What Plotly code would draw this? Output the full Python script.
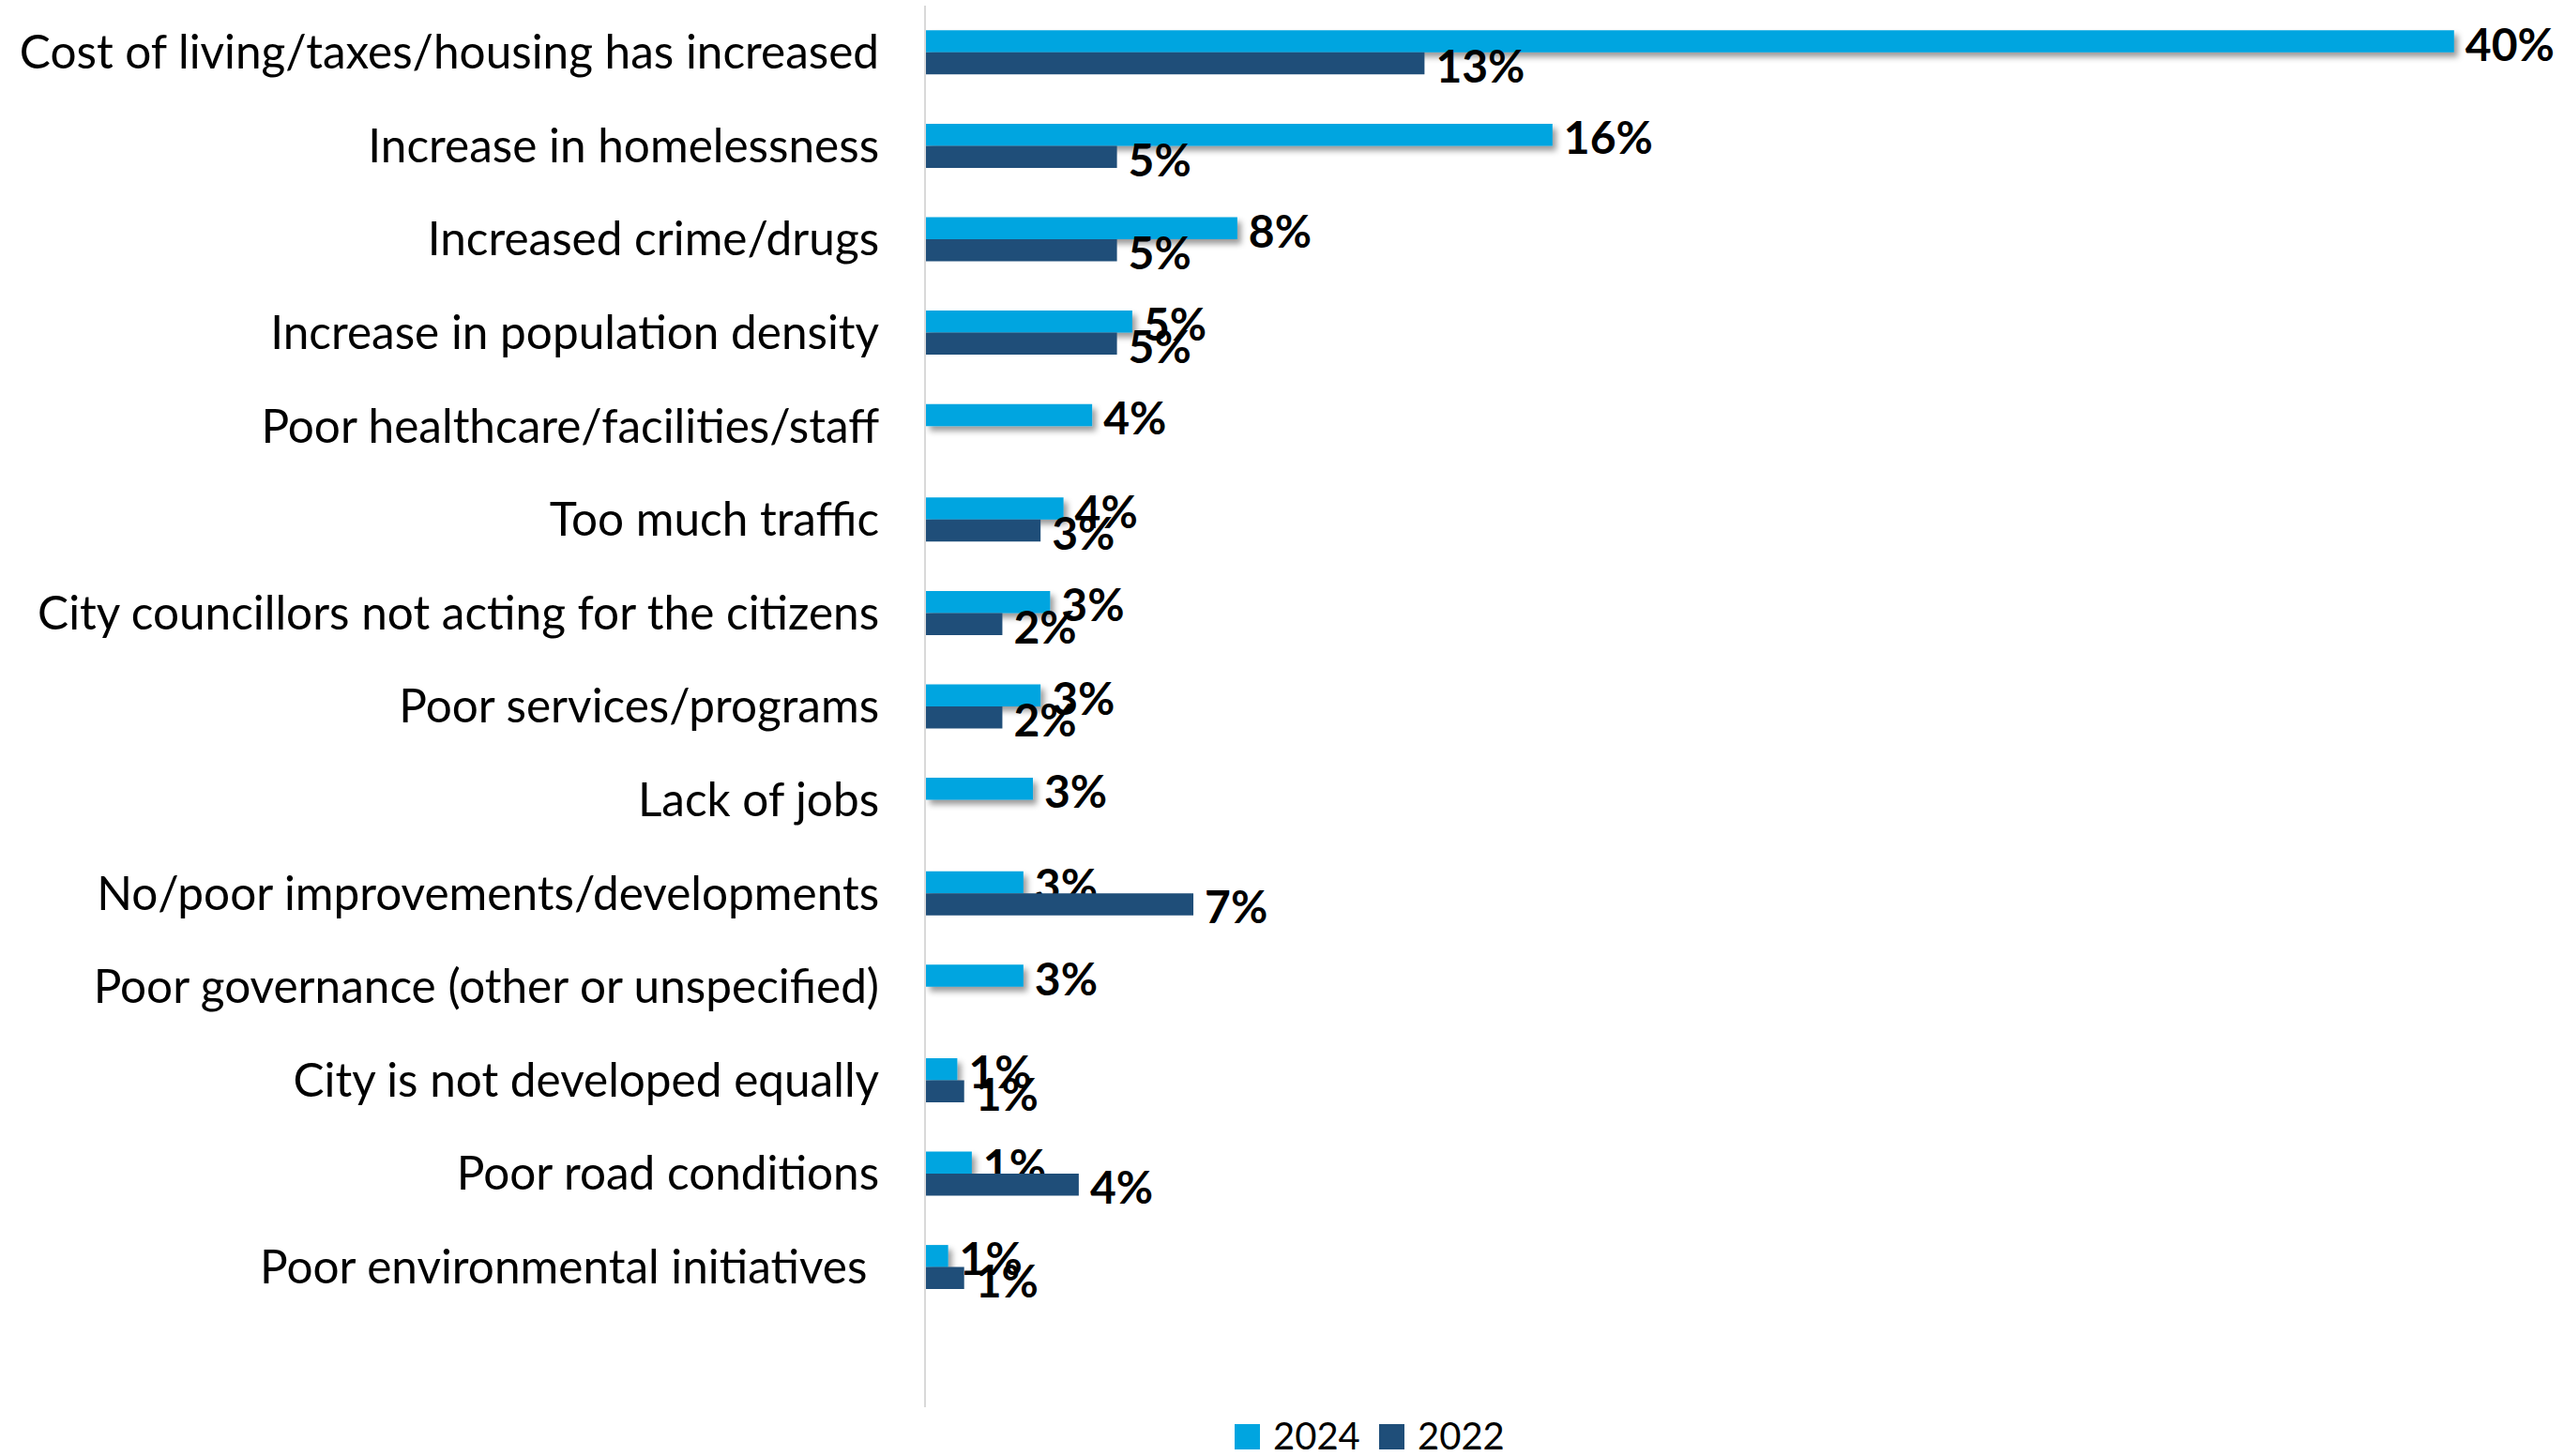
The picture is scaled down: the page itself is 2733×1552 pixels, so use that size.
import plotly.graph_objects as go

# Reasons given for the city getting worse, share of respondents (%)
categories = [
    "Cost of living/taxes/housing has increased",
    "Increase in homelessness",
    "Increased crime/drugs",
    "Increase in population density",
    "Poor healthcare/facilities/staff",
    "Too much traffic",
    "City councillors not acting for the citizens",
    "Poor services/programs",
    "Lack of jobs",
    "No/poor improvements/developments",
    "Poor governance (other or unspecified)",
    "City is not developed equally",
    "Poor road conditions",
    "Poor environmental initiatives\u00a0",
]
pct_2024 = [40.0, 16.4, 8.15, 5.4, 4.35, 3.6, 3.25, 3.0, 2.8, 2.55, 2.55, 0.82, 1.2, 0.58]
pct_2022 = [13.05, 5.0, 5.0, 5.0, None, 3.0, 2.0, 2.0, None, 7.0, None, 1.0, 4.0, 1.0]
series_names = ["2024", "2022"]
series_colors = ["#00A5E0", "#1F4E79"]

W, H = 2733, 1552
M_L, M_R, M_T, M_B = 987, 60, 6, 52
PLOT_W = W - M_L - M_R
PLOT_H = H - M_T - M_B
PX_PER_PCT = 40.72


def pct_label(v):
    if v is None:
        return ""
    return "\u2009%d%%" % int(v + 0.5)


fig = go.Figure()
for name, vals, col in zip(series_names, [pct_2024, pct_2022], series_colors):
    fig.add_trace(go.Bar(
        name=name,
        orientation="h",
        y=categories,
        x=vals,
        marker=dict(color=col, line=dict(width=0)),
        text=[pct_label(v) for v in vals],
        textposition="outside",
        constraintext="none",
        cliponaxis=False,
        textfont=dict(family="Lato", size=48, color="#000000", weight="bold"),
        showlegend=False,
        hoverinfo="skip",
    ))

# legend drawn as swatches + labels below the plot
def px_x(px):
    return (px - M_L) / PLOT_W


def px_y(py):
    return (M_T + PLOT_H - py) / PLOT_H


legend_items = [(1316, "2024", series_colors[0]), (1470, "2022", series_colors[1])]
shapes = []
annotations = []
for left, label, col in legend_items:
    shapes.append(dict(type="rect", xref="paper", yref="paper",
                       x0=px_x(left), x1=px_x(left + 27),
                       y0=px_y(1545), y1=px_y(1518),
                       fillcolor=col, line=dict(width=0)))
    annotations.append(dict(xref="paper", yref="paper", x=px_x(left + 39), y=px_y(1530),
                            xanchor="left", yanchor="middle", text=label, showarrow=False,
                            font=dict(family="Lato", size=40, color="#000000")))

fig.update_layout(
    width=W, height=H,
    margin=dict(l=M_L, r=M_R, t=M_T, b=M_B, pad=0),
    paper_bgcolor="white", plot_bgcolor="white",
    barmode="group", bargap=0.528, bargroupgap=0,
    shapes=shapes, annotations=annotations,
    showlegend=False,
    xaxis=dict(range=[0, PLOT_W / PX_PER_PCT], showgrid=False, zeroline=False,
               showticklabels=False, showline=False, fixedrange=True),
    yaxis=dict(type="category", categoryorder="array", categoryarray=categories,
               range=[len(categories) + 0.5, -0.5], showgrid=False, zeroline=False,
               showline=True, linecolor="#D9D9D9", linewidth=2, ticks="",
               ticklabelstandoff=38,
               tickfont=dict(family="Lato", size=49.5, color="#000000"), fixedrange=True),
    font=dict(family="Lato"),
)

# soft drop shadow under the 2024 bars; value labels nudged slightly right/down
shadow_js = """
var gd = document.getElementById('{plot_id}');
var svg = gd.querySelector('svg.main-svg');
var ns = 'http://www.w3.org/2000/svg';
var defs = svg.querySelector('defs');
if (!defs) { defs = document.createElementNS(ns, 'defs'); svg.insertBefore(defs, svg.firstChild); }
var f = document.createElementNS(ns, 'filter');
f.setAttribute('id', 'barshadow');
f.setAttribute('x', '-50%'); f.setAttribute('y', '-50%');
f.setAttribute('width', '200%'); f.setAttribute('height', '250%');
var ds = document.createElementNS(ns, 'feDropShadow');
ds.setAttribute('dx', '4'); ds.setAttribute('dy', '5');
ds.setAttribute('stdDeviation', '3');
ds.setAttribute('flood-color', '#000000'); ds.setAttribute('flood-opacity', '0.4');
f.appendChild(ds); defs.appendChild(f);
var traces = gd.querySelectorAll('.barlayer .trace.bars');
if (traces.length) {
  traces[0].querySelectorAll('.point path').forEach(function(p){ p.setAttribute('filter', 'url(#barshadow)'); });
}
gd.querySelectorAll('.barlayer text.bartext').forEach(function(t){
  var tr = t.getAttribute('transform') || '';
  t.setAttribute('transform', 'translate(3,2) ' + tr);
});
"""

fig.write_html("out.html", config={"displayModeBar": False, "staticPlot": True},
               post_script=shadow_js)
